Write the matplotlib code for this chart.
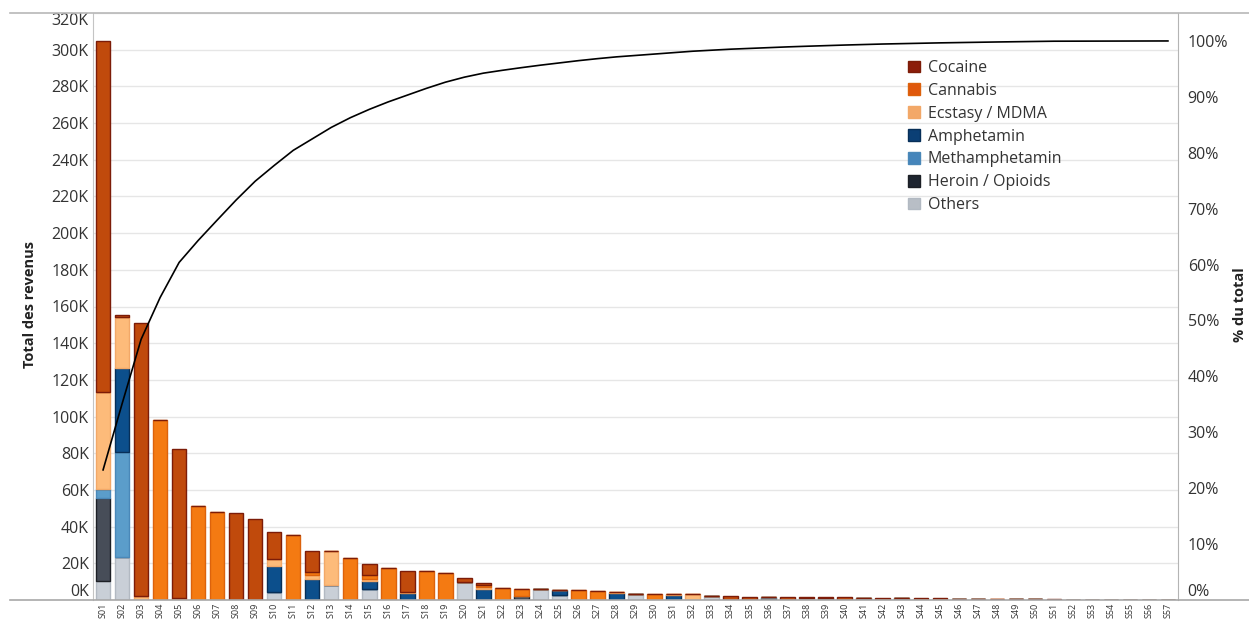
import matplotlib
matplotlib.use("Agg")
import matplotlib.pyplot as plt
from matplotlib.patches import Patch
from matplotlib.lines import Line2D
import numpy as np

plt.rcParams['font.family'] = ['Open Sans', 'DejaVu Sans']

categories = [f"S{i:02d}" for i in range(1, 58)]

# values in thousands (K)
cocaine = [191.5, 0.8, 148.8, 0, 81.3, 0, 0, 47.2, 44.0, 14.7,
           0, 11.5, 0, 0, 6.0, 0, 11.6, 0, 0, 1.8,
           1.1, 0, 0, 0, 0, 0, 0, 0, 0, 0,
           0, 0, 0, 2.4, 1.8, 0, 1.8, 0.3, 0.5, 1.4,
           0, 1.2, 0, 0.9, 0.9, 0, 0, 0, 0, 0,
           0.6, 0, 0, 0, 0, 0, 0]
cannabis = [0, 0, 0, 98.0, 1.0, 51.4, 47.8, 0, 0, 0,
            35.4, 2.0, 0, 22.7, 2.2, 17.6, 0, 15.8, 14.5, 0,
            1.4, 6.7, 3.9, 0, 0, 5.3, 4.7, 0, 0, 3.3,
            0, 0, 0, 0, 0, 0, 0, 0, 0, 0,
            0, 0, 0, 0, 0, 0, 0, 0, 0, 0,
            0, 0, 0, 0, 0, 0, 0]
ecstasy = [53.0, 28.0, 2.3, 0, 0, 0, 0, 0, 0, 3.5,
           0, 2.0, 18.7, 0, 1.2, 0, 0.5, 0, 0, 0,
           1.1, 0, 0, 0, 0, 0, 0, 0.3, 0, 0,
           0.6, 3.3, 0.3, 0, 0, 0, 0, 0, 0, 0,
           0, 0, 0, 0, 0, 0, 0, 0.7, 0, 0,
           0, 0, 0, 0, 0, 0, 0]
amphetamin = [0, 45.5, 0, 0, 0, 0, 0, 0, 0, 14.3,
              0, 11.4, 0, 0, 4.4, 0, 3.7, 0, 0, 0,
              5.8, 0, 0, 0, 2.6, 0, 0, 3.9, 0, 0,
              2.7, 0, 0, 0, 0, 0, 0, 0, 0, 0,
              0, 0, 0, 0, 0, 0, 0, 0, 0, 0,
              0, 0, 0, 0, 0, 0, 0]
methamphetamin = [4.9, 57.5, 0, 0, 0, 0, 0, 0, 0, 0,
                  0, 0, 0, 0, 0, 0, 0, 0, 0, 0,
                  0, 0, 0, 0, 0, 0, 0, 0, 0, 0,
                  0, 0, 0, 0, 0, 0.8, 0, 0, 0, 0,
                  0, 0, 0, 0, 0, 0, 0, 0, 0, 0,
                  0, 0, 0, 0, 0, 0, 0]
heroin = [45.2, 0, 0, 0, 0, 0, 0, 0, 0, 0,
          0, 0, 0, 0, 0, 0, 0, 0, 0, 0,
          0, 0, 2.3, 0, 0, 0, 0, 0, 0, 0,
          0, 0, 0, 0, 0, 1.0, 0, 0, 0.9, 0,
          1.2, 0, 0.9, 0, 0, 0, 0.7, 0, 0.6, 0.6,
          0, 0, 0, 0, 0, 0, 0]
others = [10.4, 23.3, 0, 0, 0, 0, 0, 0, 0, 4.4,
          0, 0, 8.2, 0, 5.8, 0, 0, 0, 0, 10.0,
          0, 0, 0, 5.8, 2.7, 0, 0, 0, 3.3, 0,
          0, 0, 2.1, 0, 0, 0, 0, 1.2, 0, 0,
          0, 0, 0, 0, 0, 0.7, 0, 0, 0, 0,
          0, 0.1, 0.1, 0.1, 0.1, 0.1, 0.1]

series_names = ["Cocaine", "Cannabis", "Ecstasy / MDMA", "Amphetamin",
                "Methamphetamin", "Heroin / Opioids", "Others"]
series_vals = [cocaine, cannabis, ecstasy, amphetamin, methamphetamin, heroin, others]
face = ["#c04a0c", "#f47a12", "#fdbb7a", "#0c4f8c", "#5b9dca", "#474d58", "#c9cfd7"]
edge = ["#7c1c08", "#dc620c", "#f2a868", "#072f58", "#4a88b8", "#1c1f25", "#b2b9c2"]
legend_face = ["#8c1d0a", "#e0580c", "#f3a868", "#0b3f75", "#4585bb", "#1e2530", "#b8bec6"]

left_ticks = list(range(0, 321, 20))
right_ticks = list(range(0, 101, 10))

W, H = 1249, 623
fig = plt.figure(figsize=(W / 100, H / 100), dpi=100)
ax = fig.add_axes([93 / W, 23 / H, (1178 - 93) / W, (600 - 13) / H])

x = np.arange(len(categories))
bottom = np.zeros(len(categories))
# stack from bottom: Others ... Cocaine
for i in reversed(range(len(series_names))):
    v = np.array(series_vals[i], dtype=float)
    ax.bar(x, v, bottom=bottom, width=0.76, color=face[i], edgecolor=edge[i],
           linewidth=1.0, zorder=2)
    bottom += v

total = np.zeros(len(categories))
for v in series_vals:
    total += np.array(v, dtype=float)
cum = np.cumsum(total) / total.sum() * 100

ax.set_xlim(-0.53, 56.53)
ax.set_ylim(0, 320)
ax.set_yticks(left_ticks)
ax.set_yticklabels([f"{t}K" for t in left_ticks], fontsize=11.5, color="#333333")
ax.tick_params(axis='y', length=0, pad=3)
ax.set_xticks(x)
ax.set_xticklabels(categories, rotation=90, fontsize=6.5, color="#333333")
ax.tick_params(axis='x', length=0, pad=2)
ax.yaxis.grid(True, color="#e6e6e6", linewidth=1.0)
ax.set_axisbelow(True)
for s in ["top", "bottom"]:
    ax.spines[s].set_visible(False)
ax.spines["left"].set_color("#c4c4c4")
ax.spines["right"].set_color("#b4b4b4")

labs = ax.get_yticklabels()
labs[0].set_verticalalignment("bottom")
labs[-1].set_verticalalignment("top")

ax2 = ax.twinx()
ax2.set_ylim(0, 105)
ax2.plot(x, cum, color="black", linewidth=1.2, zorder=5)
ax2.set_yticks(right_ticks)
ax2.set_yticklabels([f"{t}%" for t in right_ticks], fontsize=11.5, color="#333333")
ax2.tick_params(axis='y', length=0, pad=7)
for s in ["top", "bottom", "left", "right"]:
    ax2.spines[s].set_visible(False)
rl = ax2.get_yticklabels()
rl[0].set_verticalalignment("bottom")

# frame lines across figure
fig.add_artist(Line2D([10 / W, 1], [1 - 13 / H, 1 - 13 / H], color="#b8b8b8", lw=1.2,
                      transform=fig.transFigure))
fig.add_artist(Line2D([10 / W, 1], [23 / H, 23 / H], color="#a8a8a8", lw=1.2,
                      transform=fig.transFigure))

fig.text(30 / W, 1 - 305 / H, "Total des revenus", rotation=90, ha="center", va="center",
         fontsize=10.5, fontweight="bold", color="#222222")
fig.text(1240 / W, 1 - 305 / H, "% du total", rotation=90, ha="center", va="center",
         fontsize=10.5, fontweight="bold", color="#222222")

handles = [Patch(facecolor=legend_face[i], edgecolor=edge[i], linewidth=1.0)
           for i in range(len(series_names))]
leg = ax2.legend(handles, series_names, loc="upper left",
                 bbox_to_anchor=(908 / W, 1 - 60 / H), bbox_transform=fig.transFigure,
                 frameon=False, fontsize=11.5, handlelength=0.75, handleheight=0.75,
                 handletextpad=0.5, labelspacing=0.43, borderpad=0, borderaxespad=0)
for t in leg.get_texts():
    t.set_color("#333333")

fig.savefig("out.png", dpi=100)
